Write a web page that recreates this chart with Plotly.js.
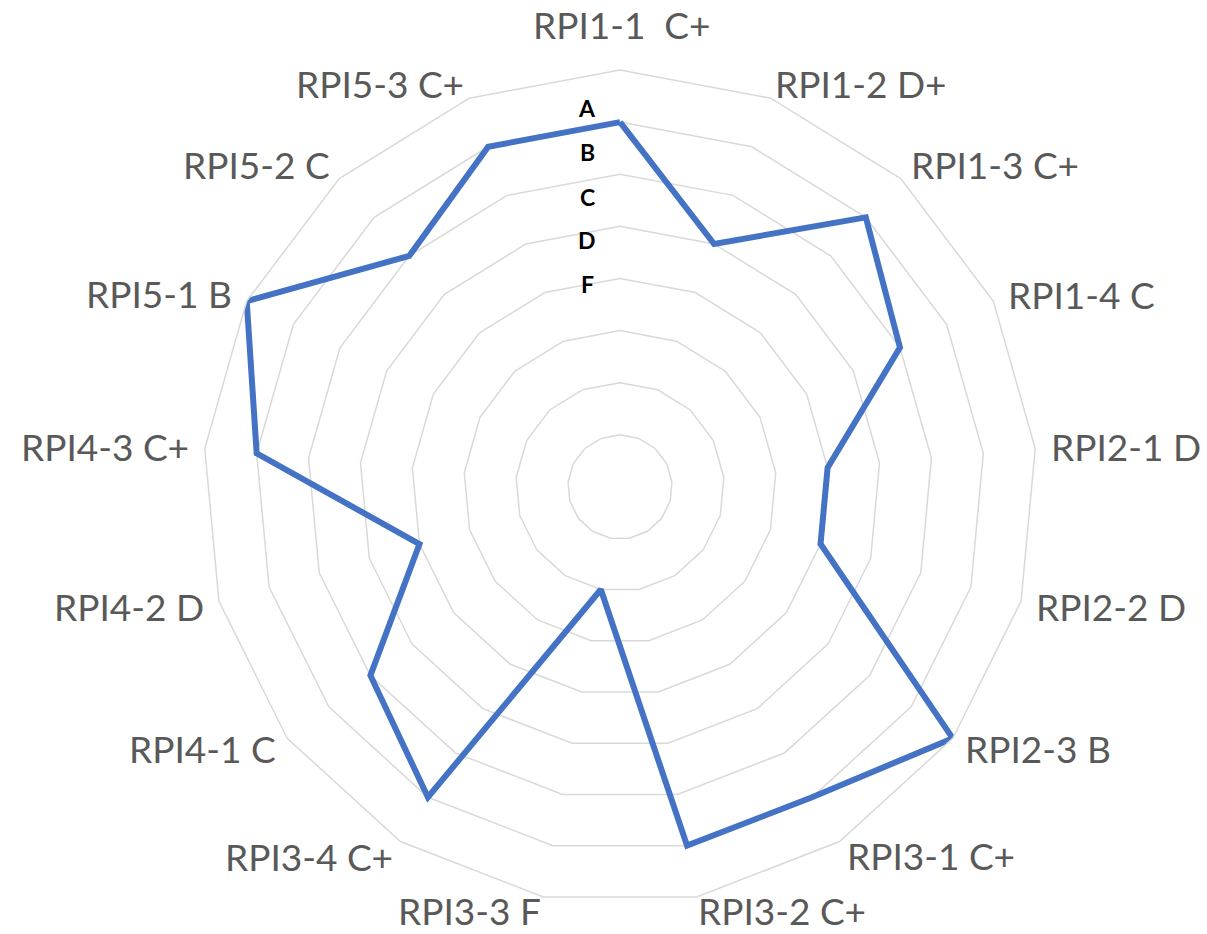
<!DOCTYPE html>
<html>
<head>
<meta charset="utf-8">
<script src="https://cdn.plot.ly/plotly-3.0.1.min.js"></script>
<style>html,body{margin:0;padding:0;background:#fff;}#chart{width:1207px;height:934px;}</style>
</head>
<body>
<div id="chart"></div>
<script>
// Categories (clockwise from top)
const categories = [
  "RPI1-1  C+", "RPI1-2 D+", "RPI1-3 C+", "RPI1-4 C", "RPI2-1 D", "RPI2-2 D",
  "RPI2-3 B", "RPI3-1 C+", "RPI3-2 C+", "RPI3-3 F", "RPI3-4 C+", "RPI4-1 C",
  "RPI4-2 D", "RPI4-3 C+", "RPI5-1 B", "RPI5-2 C", "RPI5-3 C+"
];
// Grade score values (F=2, D=4, D+=5, C=6, C+=7, B=8)
const scores = [7, 5, 7, 6, 4, 4, 8, 7, 7, 2, 7, 6, 4, 7, 8, 6, 7];
// Grade labels drawn along the top spoke
const gradeLabels = ["A", "B", "C", "D", "F"];

// ---- layout / styling (pixel positions of text labels, not data) ----
const W = 1207, H = 934;
const M = {l: 203, r: 170, t: 70, b: 30};
const plotW = W - M.l - M.r, plotH = H - M.t - M.b;
const px2x = px => (px - M.l) / plotW;
const py2y = py => (H - M.b - py) / plotH;

// centres of the category labels, in page pixels
const catLabelPx = [
  [622, 25], [861, 83], [995, 165], [1081, 294], [1126, 447], [1111, 606],
  [1038, 748], [931, 855], [782, 910], [469, 910], [309, 856], [202, 748],
  [129, 606], [105, 446], [159, 293], [256, 165], [380, 83]
];
const gradeLabelPx = [[587, 108], [587, 152], [587, 197], [587, 240], [587, 284]];

const rClosed = scores.concat([scores[0]]);
const thetaClosed = categories.concat([categories[0]]);

const trace = {
  type: "scatterpolar",
  r: rClosed,
  theta: thetaClosed,
  mode: "lines",
  line: {color: "#4472C4", width: 6, shape: "linear"},
  hoverinfo: "skip",
  showlegend: false
};

const catAnnotations = categories.map((c, i) => ({
  text: c.replace(/ /g, "&nbsp;"),
  xref: "paper", yref: "paper",
  x: px2x(catLabelPx[i][0]), y: py2y(catLabelPx[i][1]),
  xanchor: "center", yanchor: "middle",
  showarrow: false,
  borderpad: 0,
  font: {family: "Lato", size: 37, color: "#595959"}
}));

const gradeAnnotations = gradeLabels.map((g, i) => ({
  text: g,
  xref: "paper", yref: "paper",
  x: px2x(gradeLabelPx[i][0]), y: py2y(gradeLabelPx[i][1]),
  xanchor: "center", yanchor: "middle",
  showarrow: false,
  font: {family: "Lato", size: 23, color: "#000000", weight: "bold"}
}));

const layout = {
  width: W,
  height: H,
  paper_bgcolor: "#ffffff",
  plot_bgcolor: "#ffffff",
  margin: M,
  showlegend: false,
  polar: {
    domain: {x: [0, 1], y: [0, 1]},
    bgcolor: "#ffffff",
    gridshape: "linear",
    radialaxis: {
      range: [0, 8],
      dtick: 1,
      tick0: 0,
      showticklabels: false,
      ticks: "",
      showline: false,
      gridcolor: "#d9d9d9",
      gridwidth: 1.5
    },
    angularaxis: {
      type: "category",
      categoryorder: "array",
      categoryarray: categories,
      direction: "clockwise",
      rotation: 90,
      showgrid: false,
      showline: true,
      linecolor: "#d9d9d9",
      linewidth: 1.5,
      ticks: "",
      showticklabels: false
    }
  },
  annotations: catAnnotations.concat(gradeAnnotations)
};

Plotly.newPlot("chart", [trace], layout, {displayModeBar: false, staticPlot: true});
</script>
</body>
</html>
